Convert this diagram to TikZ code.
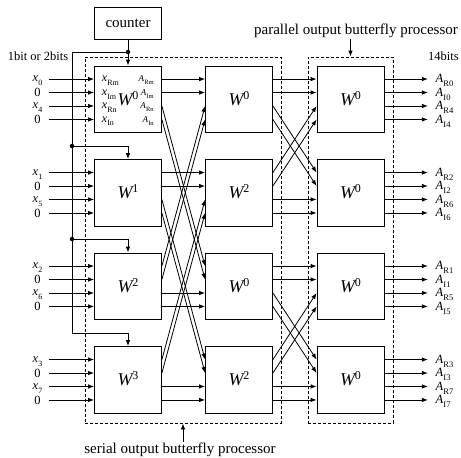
\documentclass[tikz,border=0pt]{standalone}
\usepackage{fontspec}
\setmainfont{Liberation Serif}
\usetikzlibrary{arrows.meta,calc}

% italic symbol with an upright subscript of a given size
\newcommand{\vsub}[3]{{\itshape #1}\kern0.2pt\raisebox{-0.32em}{\fontsize{#3}{#3}\selectfont #2}}
% twiddle factor label W^k
\newcommand{\wpow}[1]{{\fontsize{18}{18}\selectfont\itshape W}\raisebox{6pt}{\fontsize{12}{12}\selectfont #1}}

\begin{document}
\begin{tikzpicture}[x=1pt,y=-1pt,
  box/.style={draw,line width=0.8pt,minimum width=67pt,minimum height=66.5pt,inner sep=0pt},
  dbox/.style={draw,line width=0.8pt,dash pattern=on 3pt off 2pt,inner sep=0pt},
  arr/.style={line width=0.8pt,-{Latex[length=6pt,width=4.5pt]}},
  wire/.style={line width=0.8pt},
  jdot/.style={circle,fill,inner sep=0pt,minimum size=4.5pt},
  big/.style={font=\fontsize{15}{18}\selectfont,inner sep=0pt},
  small/.style={font=\fontsize{12.5}{14}\selectfont,inner sep=0pt},
  tiny/.style={font=\fontsize{9}{10}\selectfont,inner sep=0pt},
]
\useasboundingbox (0,0) rectangle (461,458);

% dashed frames of the two processors
\node[dbox,minimum width=196pt,minimum height=366pt] (ser) at (183,240) {};
\node[dbox,minimum width=85pt,minimum height=366pt] (par) at (350.5,240) {};

% butterfly units: columns b, c, d; four rows each
\foreach \r/\cy in {1/99.25,2/192.75,3/286.25,4/379.75}{
  \node[box] (b\r) at (128,\cy) {};
  \node[box] (c\r) at (239,\cy) {};
  \node[box] (d\r) at (350.5,\cy) {};
}
% ports: four inputs on the left side, four outputs on the right side
\foreach \n in {b1,b2,b3,b4,c1,c2,c3,c4,d1,d2,d3,d4}{
  \foreach \k in {1,2,3,4}{
    \coordinate (\n-i\k) at ($(\n.north west)!\k*0.2!(\n.south west)$);
    \coordinate (\n-o\k) at ($(\n.north east)!\k*0.2!(\n.south east)$);
  }
}

% twiddle factors
\foreach \n/\w in {b1/0,b2/1,b3/2,b4/3,c1/0,c2/2,c3/0,c4/2,d1/0,d2/0,d3/0,d4/0}{
  \node[inner sep=0pt,anchor=base] (w-\n) at ($(\n.center)+(0,6)$) {\wpow{\w}};
}

% port names inside the first unit
\foreach \k/\s in {1/Rm,2/Im,3/Rn,4/In}{
  \node[font=\fontsize{12}{13}\selectfont,inner sep=0pt,anchor=base west] (pin-\k)
    at ($(b1-i\k)+(7.5,2.7)$) {\vsub{x}{\s}{8}};
  \node[tiny,anchor=base east] (pout-\k)
    at ($(b1-o\k)+(-8,2.7)$) {\vsub{A}{\s}{6.5}};
}

% serial inputs
\foreach \r/\a/\b in {1/0/4,2/1/5,3/2/6,4/3/7}{
  \foreach \k in {1,2,3,4}{
    \path (b\r-i\k) ++(-45.5,0) coordinate (s\r-\k);
    \draw[arr] (s\r-\k) -- (b\r-i\k);
  }
  \node[small,anchor=base] (l\r-1) at ($(s\r-1)+(-11,2.8)$) {\vsub{x}{\a}{8}};
  \node[small,anchor=base] (l\r-2) at ($(s\r-2)+(-11,4.3)$) {0};
  \node[small,anchor=base] (l\r-3) at ($(s\r-3)+(-11,2.8)$) {\vsub{x}{\b}{8}};
  \node[small,anchor=base] (l\r-4) at ($(s\r-4)+(-11,4.3)$) {0};
}

% butterfly wiring between the stages
\foreach \s/\t in {b1-o1/c1-i1,b1-o2/c1-i2,b1-o3/c3-i1,b1-o4/c3-i2,
                   b2-o1/c2-i1,b2-o2/c2-i2,b2-o3/c4-i1,b2-o4/c4-i2,
                   b3-o1/c1-i3,b3-o2/c1-i4,b3-o3/c3-i3,b3-o4/c3-i4,
                   b4-o1/c2-i3,b4-o2/c2-i4,b4-o3/c4-i3,b4-o4/c4-i4,
                   c1-o1/d1-i1,c1-o2/d1-i2,c1-o3/d2-i1,c1-o4/d2-i2,
                   c2-o1/d1-i3,c2-o2/d1-i4,c2-o3/d2-i3,c2-o4/d2-i4,
                   c3-o1/d3-i1,c3-o2/d3-i2,c3-o3/d4-i1,c3-o4/d4-i2,
                   c4-o1/d3-i3,c4-o2/d3-i4,c4-o3/d4-i3,c4-o4/d4-i4}{
  \draw[arr] (\s) -- (\t);
}

% parallel outputs
\foreach \r/\p/\q in {1/0/4,2/2/6,3/1/5,4/3/7}{
  \foreach \k/\lab in {1/R\p,2/I\p,3/R\q,4/I\q}{
    \path (d\r-o\k) ++(43.5,0) coordinate (e\r-\k);
    \draw[arr] (d\r-o\k) -- (e\r-\k);
    \node[small,anchor=base west] (out\r-\k) at ($(e\r-\k)+(7.5,3.8)$) {\vsub{A}{\lab}{8.5}};
  }
}

% counter and control distribution
\node[box,minimum height=32pt,font=\fontsize{15}{18}\selectfont] (ctr) at (128,23) {counter};
\coordinate (j1) at (128,52);
\coordinate (bt) at (72,52);
\coordinate (j2) at (72,146);
\coordinate (j3) at (72,239);
\coordinate (bb) at (72,333);
\draw[wire] (ctr.south) -- (j1);
\draw[wire] (bt) -- (j1);
\draw[wire] (bt) -- (bb);
\draw[arr] (j1) -- (b1.north);
\draw[arr] (j2) -| (b2.north);
\draw[arr] (j3) -| (b3.north);
\draw[arr] (bb) -| (b4.north);
\foreach \j in {j1,j2,j3}{ \node[jdot] (dot-\j) at (\j) {}; }

% captions
\node[small,anchor=base east] (bits1) at (68.5,60) {1bit or 2bits};
\node[small,anchor=base west] (bits14) at (428,60) {14bits};
\node[big,anchor=base] (partxt) at (356,34) {parallel output butterfly processor};
\draw[arr] ($(partxt.south -| par.north)+(0,1.5)$) -- (par.north);
\node[big,anchor=base] (sertxt) at (180,453) {serial output butterfly processor};
\draw[arr] (sertxt.north -| ser.south) -- (ser.south);
\end{tikzpicture}
\end{document}
